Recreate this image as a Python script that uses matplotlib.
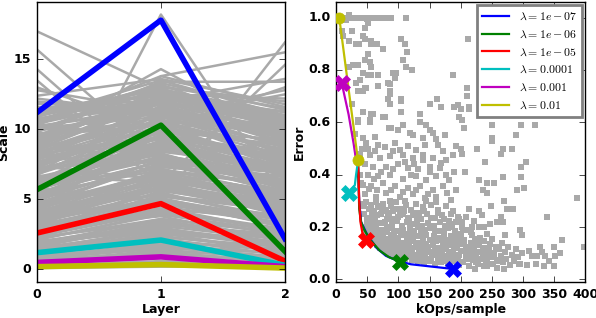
import numpy as np
import matplotlib
matplotlib.use("Agg")
import matplotlib.pyplot as plt

plt.style.use("classic")
plt.rcParams["font.weight"] = "bold"
plt.rcParams["axes.labelweight"] = "bold"
plt.rcParams["font.size"] = 9
plt.rcParams["figure.facecolor"] = "white"
plt.rcParams["savefig.facecolor"] = "white"

# ---- left panel: per-layer scale of every model (gray) ----
layers = [0, 1, 2]
scale_l0 = [0.2, 3.4, 7.1, 1.8, 9.6, 5.2, 0.7, 10.8, 4.1, 6.3,
            2.5, 8.4, 0.4, 11.2, 6.9, 3.0, 9.1, 1.3, 5.7, 7.8,
            4.6, 10.2, 2.1, 8.9, 0.9, 6.0, 3.7, 11.6, 5.0, 7.4,
            1.5, 9.9, 4.4, 2.8, 8.1, 6.6, 0.3, 10.5, 3.2, 7.0,
            5.5, 1.1, 9.3, 2.3, 11.9, 4.8, 8.7, 0.6, 6.2, 3.9,
            10.0, 7.6, 1.7, 5.9, 12.4, 2.6, 8.2, 4.3, 9.5, 0.5,
            6.8, 3.5, 11.0, 1.9, 7.3, 5.1, 9.8, 2.9, 0.8, 12.8,
            4.7, 8.6, 6.4, 1.4, 10.7, 3.1, 7.9, 5.4, 2.2, 9.0,
            13.0, 0.95, 6.1, 4.0, 11.4, 8.0, 1.6, 7.2, 3.6, 10.3,
            17.0, 15.7, 14.3, 13.5, 12.2, 1.2, 5.8, 9.4, 2.4, 6.7,
            0.35, 2.0, 4.5, 6.5, 8.5, 10.4, 1.0, 3.3, 5.3, 7.5,
            9.2, 11.1, 0.15, 2.7, 4.9, 7.7, 9.7, 10.9, 1.6, 3.8,
            6.0, 8.3, 0.45, 2.35, 4.2, 6.15, 8.8, 10.1, 1.25, 3.05,
            5.6, 7.15, 9.45, 11.3, 0.85, 2.95, 4.55, 6.85, 8.45, 10.6,
            0.55, 1.45, 2.45, 3.55, 4.35, 5.35, 6.35, 7.25, 8.25, 9.15,
            10.15, 0.25, 1.85, 2.65, 3.95, 4.65, 5.65, 6.55, 7.55, 8.55,
            9.55, 10.35, 0.75, 1.55, 2.85, 3.45, 4.25, 5.15, 6.25, 7.35,
            8.65, 9.35, 1.05, 2.15, 3.15, 4.75, 5.85, 6.75, 7.95, 9.85,
            0.65, 1.35, 2.55, 3.65, 4.95, 5.45, 6.95, 7.65, 8.75, 10.25,
            0.1, 1.75, 3.85, 5.75, 7.85, 9.05, 11.5, 10.9, 11.8, 12.0]
scale_l1 = [0.5, 5.1, 8.2, 3.0, 12.1, 6.0, 1.2, 11.5, 6.8, 9.0,
            4.4, 10.6, 0.9, 12.5, 9.4, 3.8, 7.5, 2.6, 8.1, 11.9,
            5.3, 9.7, 4.0, 12.8, 1.6, 7.2, 6.1, 10.9, 8.8, 6.4,
            2.2, 11.2, 7.0, 5.6, 10.1, 8.5, 0.4, 13.2, 4.9, 9.9,
            7.7, 2.0, 12.2, 3.4, 11.7, 6.6, 10.4, 1.1, 9.2, 5.8,
            12.9, 8.9, 3.1, 7.9, 13.6, 4.2, 11.0, 6.9, 10.8, 1.4,
            9.6, 5.4, 12.6, 2.8, 10.3, 7.4, 13.4, 4.7, 1.8, 11.3,
            6.2, 12.0, 8.6, 2.4, 13.0, 5.0, 9.3, 7.1, 3.6, 11.6,
            10.0, 1.7, 8.0, 6.5, 12.4, 10.7, 3.3, 9.1, 5.7, 13.8,
            12.9, 8.0, 6.5, 6.0, 11.1, 18.2, 4.8, 14.3, 13.8, 6.2,
            0.8, 3.2, 6.4, 8.4, 11.4, 12.3, 2.3, 5.5, 7.3, 10.2,
            12.7, 11.8, 0.3, 4.6, 7.8, 9.8, 10.5, 13.1, 3.5, 6.3,
            9.0, 11.5, 1.3, 4.1, 5.9, 8.7, 12.0, 10.9, 2.9, 5.2,
            9.5, 8.3, 11.9, 12.8, 1.9, 4.8, 7.6, 10.6, 9.4, 12.1,
            1.0, 2.9, 4.3, 5.0, 7.9, 8.8, 10.0, 11.2, 9.3, 12.4,
            11.8, 0.6, 3.6, 5.9, 4.5, 6.9, 9.6, 8.2, 10.7, 12.2,
            10.3, 13.3, 1.5, 2.7, 5.3, 6.7, 7.1, 9.2, 8.0, 11.1,
            10.5, 12.6, 2.1, 3.9, 6.2, 7.5, 8.9, 10.9, 9.7, 12.9,
            1.2, 2.5, 4.9, 5.8, 8.6, 7.7, 11.7, 10.1, 12.3, 11.4,
            0.2, 3.3, 6.6, 9.9, 11.6, 12.8, 12.5, 13.5, 12.0, 11.0]
scale_l2 = [0.1, 3.2, 6.4, 1.5, 9.8, 4.1, 0.6, 8.7, 5.0, 7.3,
            2.7, 10.1, 0.3, 9.2, 8.0, 2.0, 5.6, 1.2, 6.9, 10.4,
            3.7, 7.7, 2.4, 11.0, 0.9, 5.3, 4.6, 8.3, 7.0, 3.9,
            1.0, 9.5, 6.0, 4.4, 10.7, 7.5, 0.2, 10.0, 3.0, 8.9,
            6.6, 1.4, 11.3, 1.8, 9.0, 5.2, 8.5, 0.5, 7.9, 4.8,
            10.5, 6.2, 2.1, 5.9, 11.8, 2.9, 9.4, 5.5, 12.5, 0.8,
            8.1, 3.5, 10.9, 1.7, 7.2, 6.3, 13.4, 3.3, 1.1, 9.7,
            4.3, 10.2, 6.8, 1.3, 12.0, 3.6, 8.4, 6.1, 2.6, 9.1,
            13.0, 0.7, 5.8, 4.9, 10.6, 7.6, 2.3, 7.1, 4.0, 11.6,
            8.8, 6.4, 5.5, 3.8, 10.3, 5.0, 16.2, 9.6, 15.5, 14.6,
            0.4, 2.5, 4.7, 7.4, 8.2, 10.8, 1.6, 3.4, 6.7, 8.6,
            9.9, 7.8, 0.15, 3.9, 5.4, 9.3, 6.5, 11.5, 2.2, 5.1,
            7.0, 10.0, 0.9, 2.8, 4.5, 6.1, 10.5, 8.9, 1.9, 4.2,
            8.0, 5.7, 9.7, 11.2, 1.5, 3.1, 6.9, 8.4, 7.3, 10.2,
            0.7, 1.8, 3.6, 3.0, 6.2, 7.1, 8.8, 9.5, 6.9, 10.9,
            9.3, 0.35, 2.6, 4.9, 3.3, 5.5, 8.3, 6.0, 9.0, 10.6,
            7.4, 11.4, 1.2, 1.6, 4.3, 5.3, 4.6, 7.8, 5.9, 9.6,
            8.1, 10.3, 1.3, 2.7, 4.5, 6.3, 7.2, 9.8, 6.6, 10.9,
            0.55, 2.0, 3.5, 4.0, 7.0, 5.6, 9.1, 7.5, 10.7, 8.7,
            0.25, 2.2, 5.0, 7.7, 9.4, 10.1, 12.2, 11.0, 13.6, 12.8]

# selected models, one per lambda
lambdas = ["1e-07", "1e-06", "1e-05", "0.0001", "0.001", "0.01"]
colors = ["b", "g", "r", "c", "m", "y"]
sel_scale = [[11.2, 17.8, 2.2],
             [5.7, 10.3, 1.3],
             [2.6, 4.7, 0.6],
             [1.2, 2.1, 0.3],
             [0.5, 0.9, 0.2],
             [0.2, 0.35, 0.1]]

# ---- right panel: error vs cost of every model (gray) ----
ops = [8, 12, 16, 21, 25, 29, 33, 37, 41, 45, 49, 53, 58, 63, 67, 71, 76, 84, 88, 112,
       # 0.53 - 0.98
       51, 16, 10, 26, 47, 11, 43, 46, 21, 32, 37, 56, 56, 65, 104, 111, 75, 114, 51, 47,
       108, 27, 35, 54, 56, 20, 112, 122, 96, 92, 43, 51, 56, 67, 187, 39, 94, 32, 67, 83,
       86, 48, 46, 35, 43, 86, 87, 104, 104, 83, 162, 86, 150, 169, 190, 195, 26, 43, 56, 59,
       75, 79, 104, 134, 198, 35, 35, 54, 54, 85, 88, 108, 145, 135, 150, 155, 118, 123, 99, 43,
       30, 62, 140, 160, 175,
       211, 210, 210, 214, 214, 200, 202, 206, 250, 297, 320, 250, 288,
       # 0.3 - 0.53
       48, 51, 67, 94, 102, 115, 129, 142, 163, 171, 187, 193, 54, 70, 86, 107, 123, 139, 155, 177,
       46, 59, 80, 99, 115, 131, 150, 166, 190, 51, 67, 86, 107, 129, 145, 161, 182, 43, 56, 75,
       94, 115, 134, 155, 171, 193, 46, 64, 80, 102, 123, 142, 161, 185,
       38, 42, 62, 78, 92, 110, 125, 140, 168, 60, 72, 92, 120, 150, 176, 52, 66, 88, 108, 128,
       148, 178, 40, 38,
       250, 226, 268, 200, 202, 265, 239, 297, 207, 268, 297, 229, 242, 254, 301, 291, 236, 242,
       282, 305, 387,
       # 0.2 - 0.3
       40, 44, 48, 52, 56, 60, 64, 68, 72, 76, 80, 84, 88, 92, 96, 100, 104, 108, 112, 116,
       120, 124, 128, 132, 136, 140, 146, 152, 158, 164, 170, 176, 182, 188, 196, 45, 50, 58, 66, 74,
       82, 90, 98, 106, 114, 122, 130, 138, 148, 156, 166, 174, 184, 192, 62, 70, 86, 110, 144, 160,
       270, 248, 214, 229, 274, 284, 265, 258, 268, 339, 202, 202, 218, 229, 237,
       # 0.04 - 0.2
       46, 48, 50, 52, 55, 57, 59, 60,
       62, 63, 65, 66, 68, 70, 71, 73, 75, 76, 78, 79,
       81, 82, 84, 85, 87, 88, 90, 91, 93, 94, 96, 97, 99, 99,
       101, 102, 104, 105, 107, 108, 110, 111, 113, 114, 116, 117, 119, 119,
       121, 122, 124, 125, 127, 128, 130, 131, 133, 134, 136, 137, 138, 139,
       141, 142, 144, 145, 147, 148, 150, 151, 153, 154, 156, 157, 159, 159,
       161, 162, 164, 165, 167, 168, 170, 171, 173, 174, 176, 177, 179, 180,
       182, 183, 185, 186, 188, 189, 191, 192, 194, 195, 197, 198, 199,
       201, 203, 204, 206, 208, 209, 211, 213, 214, 216, 218, 219, 221, 223, 224, 226, 228, 229,
       231, 233, 235, 237, 238, 240, 242, 243, 245, 247, 249, 251, 252, 254, 256, 258, 259,
       262, 264, 266, 268, 271, 273, 276, 279, 282, 285, 288, 292, 296, 299,
       271, 298, 363, 398, 328, 330, 349, 360, 309, 314, 322, 336, 341, 352, 349, 333, 321, 306,
       293, 269, 223, 242, 296,
       # more of the dense cluster
       47, 49, 51, 53, 54, 56, 58, 61, 64, 67, 69, 72, 74, 77, 80, 83, 86, 89, 92, 95,
       98, 100, 103, 106, 109, 112, 115, 118, 120, 123, 126, 129, 132, 135, 138, 143, 146, 149, 152, 155,
       158, 163, 166, 169, 172, 175, 178, 181, 184, 187, 190, 193, 196, 200, 205, 210, 215, 220, 225, 230,
       235, 240, 246, 253, 260, 57, 63, 69, 74, 79, 85, 89, 95, 102, 109, 117, 125, 133, 141, 152,
       163, 173, 185, 197, 208, 221, 234, 247, 67, 81, 93, 106, 118, 131, 143, 157, 171, 186, 203, 217]
err = [1.0, 1.0, 1.0, 1.01, 1.0, 1.0, 1.0, 1.0, 1.0, 1.0, 0.995, 1.0, 1.0, 1.0, 1.0, 1.0, 1.0, 1.0, 1.0, 1.0,
       # 0.53 - 0.98
       0.98, 0.99, 0.95, 0.95, 0.96, 0.93, 0.93, 0.92, 0.91, 0.90, 0.90, 0.91, 0.90, 0.90, 0.92, 0.90, 0.88, 0.87, 0.86, 0.84,
       0.84, 0.82, 0.82, 0.83, 0.81, 0.81, 0.81, 0.80, 0.79, 0.79, 0.79, 0.78, 0.78, 0.78, 0.78, 0.76, 0.77, 0.75, 0.74, 0.75,
       0.745, 0.73, 0.73, 0.72, 0.72, 0.72, 0.71, 0.69, 0.68, 0.69, 0.69, 0.67, 0.67, 0.66, 0.66, 0.665, 0.67, 0.64, 0.63, 0.63,
       0.62, 0.62, 0.64, 0.63, 0.62, 0.61, 0.60, 0.61, 0.60, 0.58, 0.58, 0.59, 0.59, 0.60, 0.57, 0.56, 0.56, 0.55, 0.57, 0.54,
       0.555, 0.545, 0.54, 0.535, 0.55,
       0.92, 0.73, 0.70, 0.66, 0.65, 0.65, 0.61, 0.58, 0.59, 0.59, 0.59, 0.54, 0.55,
       # 0.3 - 0.53
       0.52, 0.50, 0.515, 0.52, 0.495, 0.51, 0.495, 0.515, 0.515, 0.49, 0.475, 0.51, 0.475, 0.465, 0.47, 0.475, 0.465, 0.475, 0.465, 0.455,
       0.44, 0.43, 0.43, 0.44, 0.425, 0.42, 0.43, 0.425, 0.41, 0.40, 0.395, 0.40, 0.385, 0.395, 0.38, 0.395, 0.38, 0.36, 0.355, 0.37,
       0.355, 0.35, 0.355, 0.34, 0.355, 0.34, 0.325, 0.315, 0.33, 0.315, 0.325, 0.31, 0.315, 0.305,
       0.48, 0.50, 0.49, 0.505, 0.49, 0.45, 0.44, 0.455, 0.445, 0.385, 0.41, 0.42, 0.40, 0.41, 0.40, 0.345, 0.34, 0.34, 0.335, 0.34,
       0.325, 0.33, 0.37, 0.40,
       0.53, 0.50, 0.50, 0.50, 0.48, 0.48, 0.45, 0.43, 0.41, 0.39, 0.39, 0.38, 0.37, 0.37, 0.35, 0.34, 0.34, 0.33,
       0.50, 0.45, 0.31,
       # 0.2 - 0.3
       0.29, 0.28, 0.295, 0.27, 0.285, 0.26, 0.295, 0.275, 0.25, 0.29, 0.265, 0.245, 0.28, 0.26, 0.295, 0.24, 0.27, 0.25, 0.285, 0.235,
       0.265, 0.245, 0.29, 0.255, 0.23, 0.275, 0.25, 0.285, 0.235, 0.265, 0.245, 0.28, 0.225, 0.26, 0.24, 0.25, 0.235, 0.225, 0.245, 0.215,
       0.23, 0.21, 0.225, 0.205, 0.22, 0.21, 0.225, 0.205, 0.215, 0.205, 0.22, 0.205, 0.21, 0.22, 0.21, 0.28, 0.30, 0.30, 0.30, 0.295,
       0.30, 0.28, 0.27, 0.26, 0.27, 0.27, 0.24, 0.22, 0.22, 0.24, 0.22, 0.20, 0.20, 0.20, 0.20,
       # 0.04 - 0.2
       0.19, 0.175, 0.20, 0.165, 0.185, 0.155, 0.175, 0.195,
       0.14, 0.165, 0.185, 0.13, 0.155, 0.175, 0.12, 0.145, 0.19, 0.165, 0.11, 0.135,
       0.155, 0.18, 0.10, 0.125, 0.145, 0.17, 0.195, 0.095, 0.115, 0.135, 0.16, 0.185, 0.105, 0.15,
       0.085, 0.125, 0.17, 0.10, 0.14, 0.19, 0.08, 0.115, 0.155, 0.175, 0.095, 0.13, 0.16, 0.20,
       0.075, 0.11, 0.145, 0.185, 0.09, 0.125, 0.165, 0.07, 0.105, 0.14, 0.18, 0.085, 0.12, 0.155,
       0.065, 0.10, 0.135, 0.17, 0.08, 0.115, 0.195, 0.15, 0.07, 0.095, 0.13, 0.165, 0.06, 0.11,
       0.145, 0.185, 0.085, 0.12, 0.16, 0.065, 0.10, 0.135, 0.175, 0.08, 0.115, 0.15, 0.06, 0.195,
       0.09, 0.13, 0.165, 0.07, 0.105, 0.145, 0.185, 0.08, 0.12, 0.16, 0.055, 0.095, 0.135,
       0.175, 0.065, 0.11, 0.15, 0.085, 0.125, 0.19, 0.05, 0.10, 0.14, 0.17, 0.075, 0.115, 0.155, 0.09, 0.13, 0.06, 0.105,
       0.16, 0.08, 0.12, 0.145, 0.05, 0.095, 0.175, 0.07, 0.11, 0.135, 0.085, 0.155, 0.06, 0.10, 0.125, 0.075, 0.045,
       0.115, 0.09, 0.14, 0.065, 0.105, 0.08, 0.125, 0.055, 0.095, 0.07, 0.115, 0.085, 0.06, 0.10,
       0.17, 0.17, 0.15, 0.125, 0.125, 0.105, 0.125, 0.10, 0.11, 0.09, 0.09, 0.09, 0.07, 0.09, 0.05, 0.05, 0.06, 0.055,
       0.06, 0.04, 0.04, 0.05, 0.19,
       # more of the dense cluster
       0.165, 0.21, 0.18, 0.235, 0.16, 0.205, 0.17, 0.15, 0.2, 0.14, 0.19, 0.13, 0.165, 0.12, 0.145, 0.11, 0.135, 0.16, 0.105, 0.125,
       0.095, 0.14, 0.115, 0.09, 0.13, 0.1, 0.145, 0.085, 0.12, 0.165, 0.095, 0.14, 0.08, 0.115, 0.175, 0.09, 0.125, 0.07, 0.105, 0.14,
       0.185, 0.075, 0.11, 0.15, 0.09, 0.13, 0.07, 0.105, 0.145, 0.085, 0.125, 0.165, 0.075, 0.11, 0.14, 0.08, 0.125, 0.095, 0.065, 0.135,
       0.1, 0.065, 0.12, 0.09, 0.07, 0.25, 0.235, 0.215, 0.26, 0.22, 0.255, 0.23, 0.27, 0.245, 0.26, 0.235, 0.255, 0.24, 0.26, 0.235,
       0.255, 0.23, 0.25, 0.23, 0.24, 0.225, 0.245, 0.21, 0.19, 0.2, 0.18, 0.195, 0.185, 0.2, 0.19, 0.205, 0.185, 0.2, 0.19, 0.18]

# a few models drawn with a small cross marker
ops_x = [265, 245, 262, 242, 241, 238]
err_x = [0.80, 0.77, 0.76, 0.72, 0.69, 0.64]

# training paths of the selected models (kOps, error), last point = final model
path_ops = [[35, 37, 40, 50, 65, 80, 100, 120, 150, 188],
            [35, 36, 37, 40, 45, 55, 70, 85, 103],
            [35, 36, 37, 39, 42, 48],
            [35, 32, 30, 21],
            [33, 28, 20, 9],
            [35, 5]]
path_err = [[0.45, 0.30, 0.22, 0.17, 0.12, 0.09, 0.07, 0.058, 0.05, 0.04],
            [0.45, 0.38, 0.27, 0.22, 0.19, 0.15, 0.11, 0.085, 0.068],
            [0.45, 0.40, 0.30, 0.22, 0.18, 0.15],
            [0.45, 0.40, 0.36, 0.33],
            [0.44, 0.52, 0.63, 0.75],
            [0.455, 1.0]]

fig = plt.figure(figsize=(5.96, 3.18), dpi=100)
ax1 = fig.add_axes([0.062, 0.113, 0.416, 0.881])
ax2 = fig.add_axes([0.564, 0.113, 0.418, 0.881])

# left
for a, b, c in zip(scale_l0, scale_l1, scale_l2):
    ax1.plot(layers, [a, b, c], c="darkgray", lw=1.8)
for s, col in zip(sel_scale, colors):
    ax1.plot(layers, s, c=col, lw=4)
ax1.set_xlim(0, 2)
ax1.set_ylim(-0.9, 19.1)
ax1.set_xticks([0, 1, 2])
ax1.set_yticks([0, 5, 10, 15])
ax1.set_xlabel("Layer", labelpad=2)
ax1.set_ylabel("Scale", labelpad=3)

# right
ax2.scatter(ops, err, s=14, c="darkgray", marker="s", linewidths=0, zorder=1)
ax2.scatter(ops_x, err_x, s=12, c="#c8c8c8", marker="x", linewidths=0.8, zorder=1)
for po, pe, col, lam in zip(path_ops, path_err, colors, lambdas):
    ax2.plot(po, pe, c=col, lw=1.6, label=r"$\lambda=%s$" % lam, zorder=2)
    if col == "y":
        ax2.plot([po[0], po[-1]], [pe[0], pe[-1]], ls="None", marker="o",
                 ms=8, c=col, mec=col, zorder=3)
    else:
        ax2.plot(po[-1], pe[-1], ls="None", marker="X", ms=12, c=col, mec=col, zorder=3)
ax2.set_xlim(0, 400)
ax2.set_ylim(-0.01, 1.06)
ax2.set_xticks(range(0, 401, 50))
ax2.set_yticks([0.0, 0.2, 0.4, 0.6, 0.8, 1.0])
ax2.set_xlabel("kOps/sample", labelpad=2)
ax2.set_ylabel("Error", labelpad=2)
leg = ax2.legend(loc="upper right", fontsize=8.5, handlelength=2.3, labelspacing=0.4,
                 borderaxespad=0.3, fancybox=False, numpoints=1)
leg.get_frame().set_edgecolor("gray")
leg.get_frame().set_linewidth(2)

fig.savefig("out.png", dpi=100)
